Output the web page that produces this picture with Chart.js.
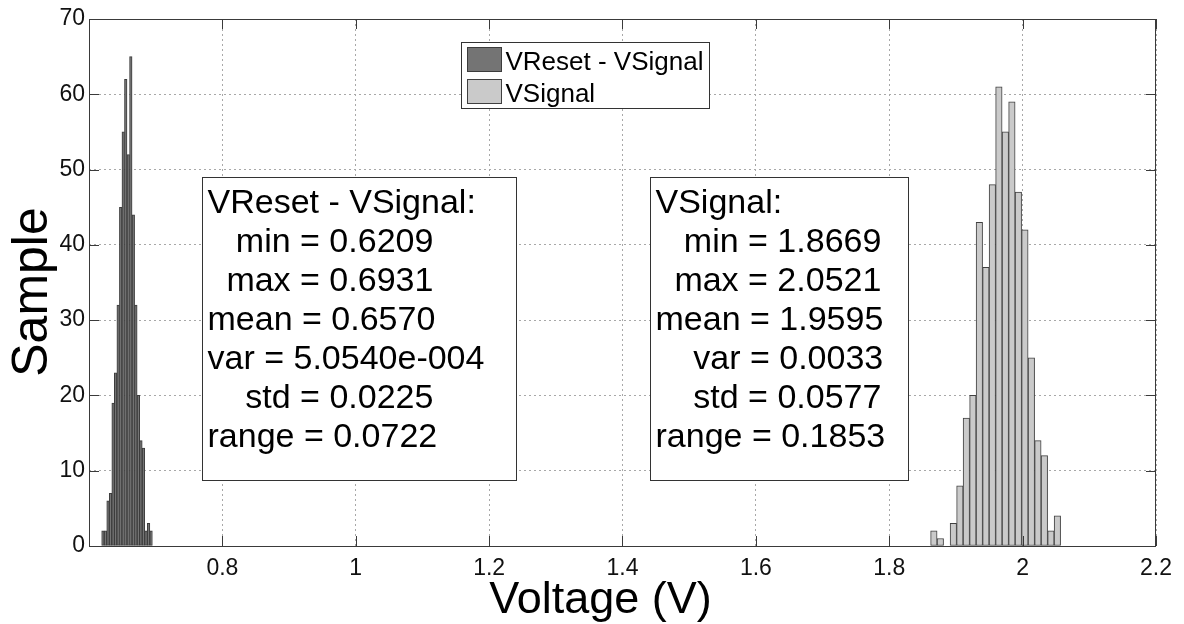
<!DOCTYPE html>
<html>
<head>
<meta charset="utf-8">
<script src="https://cdn.jsdelivr.net/npm/chart.js@4/dist/chart.umd.min.js"></script>
<style>
  html, body { margin: 0; padding: 0; background: #fff; }
  canvas { display: block; }
</style>
</head>
<body>
<canvas id="histChart" width="1184" height="624"></canvas>
<script>
// bin centres (V) and counts
const diffCenters = [0.6209, 0.6247, 0.6285, 0.6323, 0.6361, 0.6399, 0.6437, 0.6475, 0.6513, 0.6551,
                     0.6589, 0.6627, 0.6665, 0.6703, 0.6741, 0.6779, 0.6817, 0.6855, 0.6893, 0.6931];
const diffCounts = [2, 2, 6, 7, 19, 23, 32, 45, 55, 62, 52, 65, 44, 32, 20, 14, 13, 2, 3, 2];

const sigCenters = [1.8669, 1.8766, 1.8864, 1.8961, 1.9059, 1.9156, 1.9254, 1.9351, 1.9449, 1.9546,
                    1.9644, 1.9741, 1.9839, 1.9936, 2.0034, 2.0131, 2.0229, 2.0326, 2.0424, 2.0521];
const sigCounts = [2, 1, 0, 3, 8, 17, 20, 43, 37, 48, 61, 55, 59, 47, 42, 25, 14, 12, 2, 4];

const seriesNames = ['VReset - VSignal', 'VSignal'];

const diffStats = ['VReset - VSignal:', '   min = 0.6209', '  max = 0.6931', 'mean = 0.6570',
                   'var = 5.0540e-004', '    std = 0.0225', 'range = 0.0722'];
const sigStats = ['VSignal:', '   min = 1.8669', '  max = 2.0521', 'mean = 1.9595',
                  '    var = 0.0033', '    std = 0.0577', 'range = 0.1853'];

const xTitle = 'Voltage (V)';
const yTitle = 'Sample';

const FONT = 'Arial, "Liberation Sans", sans-serif';

// text boxes and legend, placed in data coordinates
const statBoxes = [
    { lines: diffStats, x0: 0.770, x1: 1.2403, yTop: 49.0, yBot: 8.8 },
    { lines: sigStats,  x0: 1.4414, x1: 1.8285, yTop: 49.0, yBot: 8.8 }
];
const legendAt = { x0: 1.1577, x1: 1.5295, yTop: 67.0, yBot: 58.2 };

const overlay = {
    id: 'overlay',
    afterDatasetsDraw(chart) {
        const { ctx, chartArea: a, scales: { x, y } } = chart;
        ctx.save();

        // axes box + inward ticks
        ctx.strokeStyle = '#3a3a3a';
        ctx.lineWidth = 1;
        ctx.setLineDash([]);
        ctx.beginPath();
        x.ticks.forEach(t => {
            const px = Math.round(x.getPixelForValue(t.value)) + 0.5;
            ctx.moveTo(px, a.bottom); ctx.lineTo(px, a.bottom - 10);
            ctx.moveTo(px, a.top); ctx.lineTo(px, a.top + 10);
        });
        y.ticks.forEach(t => {
            const py = Math.round(y.getPixelForValue(t.value)) + 0.5;
            ctx.moveTo(a.left, py); ctx.lineTo(a.left + 10, py);
            ctx.moveTo(a.right, py); ctx.lineTo(a.right - 10, py);
        });
        ctx.stroke();
        ctx.strokeRect(Math.round(a.left) + 0.5, Math.round(a.top) + 0.5,
                       Math.round(a.width) - 1, Math.round(a.height));

        // statistics boxes
        statBoxes.forEach(b => {
            const l = Math.round(x.getPixelForValue(b.x0)) + 0.5;
            const r = Math.round(x.getPixelForValue(b.x1)) + 0.5;
            const t = Math.round(y.getPixelForValue(b.yTop)) + 0.5;
            const bt = Math.round(y.getPixelForValue(b.yBot)) + 0.5;
            ctx.fillStyle = '#fff';
            ctx.fillRect(l, t, r - l, bt - t);
            ctx.strokeStyle = '#333';
            ctx.strokeRect(l, t, r - l, bt - t);
            ctx.fillStyle = '#000';
            ctx.font = '34px ' + FONT;
            ctx.textAlign = 'left';
            ctx.textBaseline = 'alphabetic';
            b.lines.forEach((line, i) => {
                ctx.fillText(line, l + 5, t + 35 + i * 39);
            });
        });

        // legend
        const l = Math.round(x.getPixelForValue(legendAt.x0)) + 0.5;
        const r = Math.round(x.getPixelForValue(legendAt.x1)) + 0.5;
        const t = Math.round(y.getPixelForValue(legendAt.yTop)) + 0.5;
        const bt = Math.round(y.getPixelForValue(legendAt.yBot)) + 0.5;
        ctx.fillStyle = '#fff';
        ctx.fillRect(l, t, r - l, bt - t);
        ctx.strokeStyle = '#333';
        ctx.strokeRect(l, t, r - l, bt - t);
        ctx.font = '26px ' + FONT;
        chart.data.datasets.forEach((ds, i) => {
            const py = t + 5 + i * 32;
            ctx.fillStyle = ds.backgroundColor;
            ctx.fillRect(l + 6, py, 34, 24);
            ctx.strokeStyle = ds.borderColor;
            ctx.strokeRect(l + 6, py, 34, 24);
            ctx.fillStyle = '#000';
            ctx.fillText(ds.label, l + 44, py + 22);
        });

        // axis titles (MATLAB puts them a little off the axis centre)
        ctx.fillStyle = '#000';
        ctx.font = '45px ' + FONT;
        ctx.textAlign = 'left';
        ctx.textBaseline = 'alphabetic';
        ctx.fillText(xTitle, x.getPixelForValue(1.2), 613);

        ctx.save();
        ctx.translate(47, 292);
        ctx.rotate(-Math.PI / 2);
        ctx.font = '50px ' + FONT;
        ctx.textAlign = 'center';
        ctx.fillText(yTitle, 0, 0);
        ctx.restore();

        ctx.restore();
    }
};

const gridStyle = { color: '#a8a8a8', lineWidth: 1, drawTicks: false };
const dotted = { display: false, dash: [2, 3] };

new Chart(document.getElementById('histChart'), {
    type: 'bar',
    data: {
        datasets: [
            {
                label: seriesNames[0],
                data: diffCenters.map((c, i) => ({ x: c, y: diffCounts[i] })),
                xAxisID: 'x',
                backgroundColor: '#747474',
                borderColor: '#3c3c3c',
                borderWidth: 1,
                borderSkipped: false,
                grouped: false,
                barPercentage: 1,
                categoryPercentage: 1
            },
            {
                label: seriesNames[1],
                data: sigCenters.map((c, i) => ({ x: c, y: sigCounts[i] })),
                xAxisID: 'x2',
                backgroundColor: '#cacaca',
                borderColor: '#404040',
                borderWidth: 1,
                borderSkipped: false,
                grouped: false,
                barPercentage: 1,
                categoryPercentage: 1
            }
        ]
    },
    options: {
        responsive: false,
        animation: false,
        events: [],
        layout: { padding: { top: 19, right: 28, left: 0, bottom: 0 } },
        plugins: { legend: { display: false }, tooltip: { enabled: false } },
        scales: {
            x: {
                type: 'linear',
                min: 0.6,
                max: 2.2,
                offset: false,
                grid: { ...gridStyle, offset: false },
                border: dotted,
                ticks: {
                    stepSize: 0.2,
                    padding: 9,
                    color: '#111',
                    font: { family: FONT, size: 23 },
                    maxRotation: 0,
                    callback: (v) => v < 0.7 ? '' : String(Math.round(v * 10) / 10)
                },
                afterFit: (s) => { s.height = 78; }
            },
            x2: {
                type: 'linear',
                min: 0.6,
                max: 2.2,
                offset: false,
                display: false,
                grid: { offset: false }
            },
            y: {
                min: 0,
                max: 70,
                grid: gridStyle,
                border: dotted,
                ticks: {
                    stepSize: 10,
                    padding: 4,
                    color: '#111',
                    font: { family: FONT, size: 23 }
                },
                afterFit: (s) => { s.width = 89; }
            }
        }
    },
    plugins: [overlay]
});
</script>
</body>
</html>
